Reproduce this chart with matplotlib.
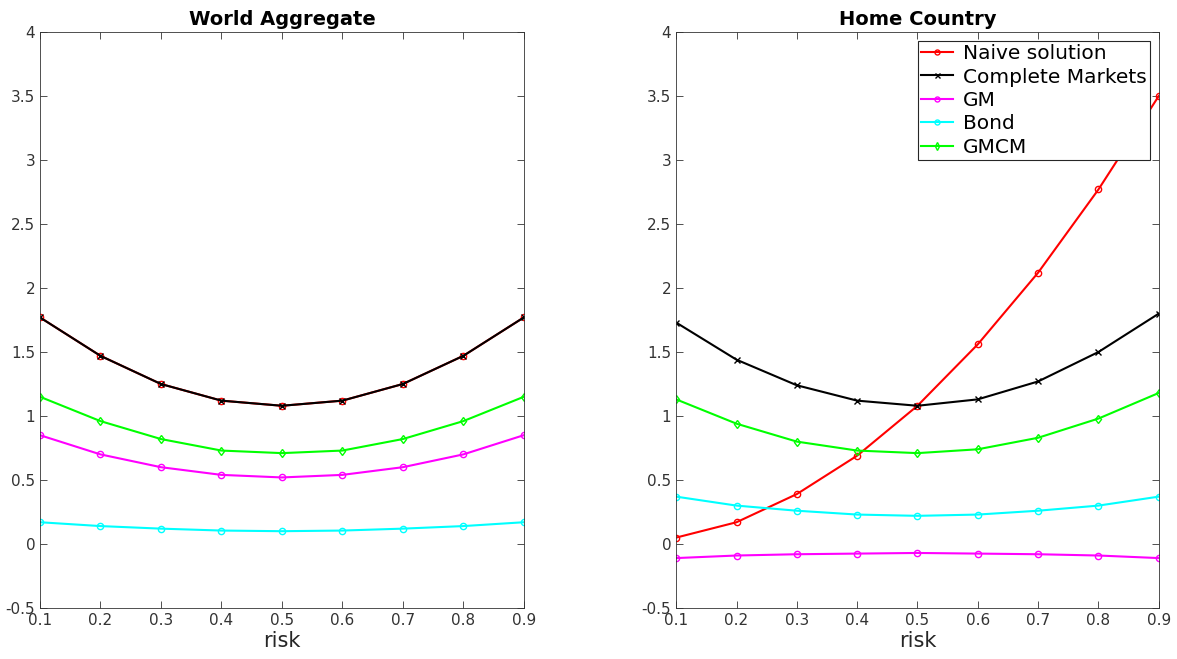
import numpy as np
import matplotlib
matplotlib.use('Agg')
import matplotlib.pyplot as plt

risk = [0.1, 0.2, 0.3, 0.4, 0.5, 0.6, 0.7, 0.8, 0.9]

# world aggregate
w_naive = [1.77, 1.47, 1.25, 1.12, 1.08, 1.12, 1.25, 1.47, 1.77]
w_cm = [1.77, 1.47, 1.25, 1.12, 1.08, 1.12, 1.25, 1.47, 1.77]
w_gm = [0.85, 0.70, 0.60, 0.54, 0.52, 0.54, 0.60, 0.70, 0.85]
w_bond = [0.17, 0.14, 0.12, 0.105, 0.10, 0.105, 0.12, 0.14, 0.17]
w_gmcm = [1.15, 0.96, 0.82, 0.73, 0.71, 0.73, 0.82, 0.96, 1.15]

# home country
h_naive = [0.05, 0.17, 0.39, 0.69, 1.08, 1.56, 2.12, 2.77, 3.50]
h_cm = [1.73, 1.44, 1.24, 1.12, 1.08, 1.13, 1.27, 1.50, 1.80]
h_gm = [-0.11, -0.09, -0.08, -0.075, -0.07, -0.075, -0.08, -0.09, -0.11]
h_bond = [0.37, 0.30, 0.26, 0.23, 0.22, 0.23, 0.26, 0.30, 0.37]
h_gmcm = [1.13, 0.94, 0.80, 0.73, 0.71, 0.74, 0.83, 0.98, 1.18]

labels = ['Naive solution', 'Complete Markets', 'GM', 'Bond', 'GMCM']
colors = ['#ff0000', '#000000', '#ff00ff', '#00ffff', '#00ff00']
markers = ['o', 'x', 'o', 'o', 'd']

fig = plt.figure(figsize=(11.77, 6.59), dpi=100)
ax1 = fig.add_axes([0.034, 0.0774, 0.411, 0.874])
ax2 = fig.add_axes([0.5745, 0.0774, 0.41, 0.874])

def panel(ax, series, title):
    for y, lab, c, m in zip(series, labels, colors, markers):
        ax.plot(risk, y, color=c, marker=m, markersize=4.5, mfc='none',
                mec=c, mew=1.0, lw=1.5, label=lab)
    ax.set_xlim(0.1, 0.9)
    ax.set_ylim(-0.5, 4)
    ax.set_xticks(risk)
    ax.set_xticklabels(['0.1', '0.2', '0.3', '0.4', '0.5', '0.6', '0.7', '0.8', '0.9'])
    ax.set_yticks(np.arange(-0.5, 4.01, 0.5))
    ax.set_yticklabels(['-0.5', '0', '0.5', '1', '1.5', '2', '2.5', '3', '3.5', '4'])
    ax.tick_params(direction='in', top=True, right=True, labelsize=11,
                   colors='#333333', length=5, width=0.6)
    for s in ax.spines.values():
        s.set_color('#333333')
        s.set_linewidth(0.6)
    ax.set_xlabel('risk', fontsize=15, color='#262626', labelpad=2)
    ax.set_title(title, fontsize=14, fontweight='bold', pad=5)

panel(ax1, [w_naive, w_cm, w_gm, w_bond, w_gmcm], 'World Aggregate')
panel(ax2, [h_naive, h_cm, h_gm, h_bond, h_gmcm], 'Home Country')

leg = ax2.legend(loc='upper right', fontsize=14.5, fancybox=False, framealpha=1,
                 edgecolor='#262626', borderpad=0.15, labelspacing=0.22,
                 handlelength=1.6, handletextpad=0.5, borderaxespad=0.45,
                 markerscale=0.8)
leg.get_frame().set_linewidth(0.8)

fig.savefig('out.png', dpi=100)
